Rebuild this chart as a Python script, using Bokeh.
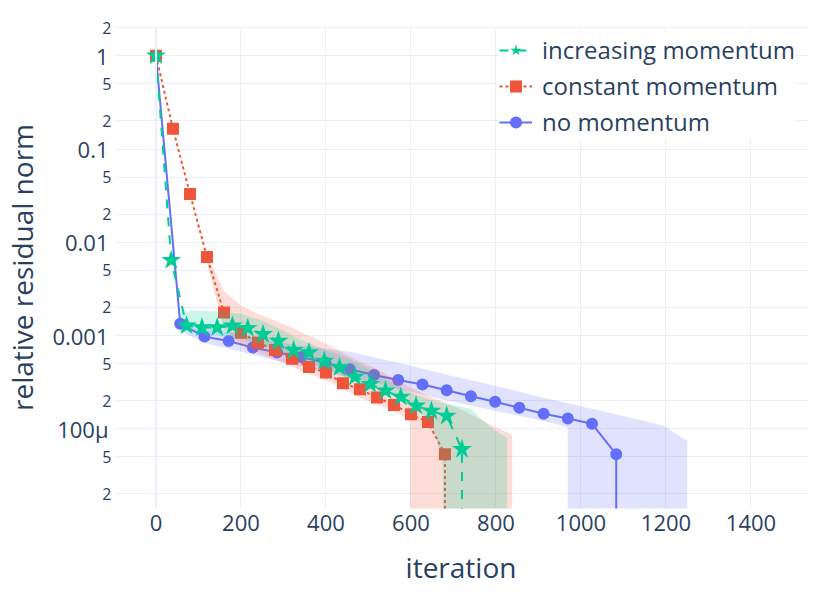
from bokeh.plotting import figure
from bokeh.models import Range1d, FixedTicker, LogAxis, Legend, LegendItem, Span
from bokeh.embed import file_html
from bokeh.resources import INLINE

FONT = "Open Sans"
TXT = "#2a3f5f"
GRID = "#EBF0F8"
C_INC = "#00cc96"
C_CON = "#EF553B"
C_NO = "#636efa"
FLOOR = 1e-9  # below the visible range: where a curve/band drops out

# ---- series (iteration, relative residual norm) ----
inc_x = [0, 36, 72, 108, 144, 180, 216, 252, 288, 324, 360, 396, 432, 468, 504,
         540, 576, 612, 648, 684, 720, 720]
inc_y = [1.0, 6.4e-3, 1.27e-3, 1.22e-3, 1.22e-3, 1.27e-3, 1.20e-3, 1.03e-3, 8.75e-4,
         6.95e-4, 6.56e-4, 5.34e-4, 4.53e-4, 3.60e-4, 3.0e-4, 2.55e-4, 2.19e-4,
         1.76e-4, 1.55e-4, 1.37e-4, 6.03e-5, FLOOR]

con_x = [0, 40, 80, 120, 160, 200, 240, 280, 320, 360, 400, 440, 480, 520, 560,
         600, 640, 680, 680]
con_y = [1.0, 0.165, 0.033, 6.97e-3, 1.76e-3, 1.07e-3, 8.39e-4, 7.0e-4, 5.65e-4,
         4.6e-4, 4.0e-4, 3.08e-4, 2.65e-4, 2.16e-4, 1.80e-4, 1.43e-4, 1.18e-4,
         5.32e-5, FLOOR]

no_x = [0, 57, 114, 171, 228, 285, 342, 399, 456, 513, 570, 627, 684, 741, 798,
        855, 912, 969, 1026, 1083, 1083]
no_y = [1.0, 1.34e-3, 9.73e-4, 8.75e-4, 7.42e-4, 6.56e-4, 5.89e-4, 5.1e-4, 4.35e-4,
        3.78e-4, 3.34e-4, 2.99e-4, 2.59e-4, 2.23e-4, 1.95e-4, 1.68e-4, 1.45e-4,
        1.29e-4, 1.13e-4, 5.32e-5, FLOOR]

# ---- spread bands (upper / lower envelopes) ----
no_up_x = [56, 114, 171, 228, 285, 342, 399, 456, 513, 570, 627, 684, 741, 798,
           855, 912, 969, 1026, 1083, 1140, 1195, 1250, 1250]
no_up_y = [1.59e-3, 1.24e-3, 1.09e-3, 9.7e-4, 8.57e-4, 7.76e-4, 7.21e-4, 6.7e-4,
           5.85e-4, 5.1e-4, 4.4e-4, 3.8e-4, 3.32e-4, 2.9e-4, 2.5e-4, 2.15e-4,
           1.88e-4, 1.64e-4, 1.42e-4, 1.24e-4, 1.08e-4, 7.4e-5, FLOOR]
no_lo_x = [56, 114, 171, 228, 285, 342, 399, 456, 513, 570, 627, 684, 741, 798,
           855, 912, 969, 969]
no_lo_y = [1.125e-3, 8.36e-4, 7.21e-4, 6.22e-4, 5.36e-4, 4.62e-4, 3.99e-4, 3.52e-4,
           3.11e-4, 2.69e-4, 2.33e-4, 2.01e-4, 1.78e-4, 1.56e-4, 1.38e-4, 1.22e-4,
           1.04e-4, FLOOR]

con_up_x = [120, 160, 200, 240, 280, 320, 360, 400, 440, 480, 520, 560, 600, 640,
            680, 720, 760, 800, 838, 838]
con_up_y = [7.16e-3, 3.02e-3, 2.09e-3, 1.71e-3, 1.44e-3, 1.21e-3, 9.94e-4, 8.16e-4,
            6.53e-4, 5.23e-4, 4.37e-4, 3.44e-4, 2.75e-4, 2.26e-4, 1.9e-4, 1.6e-4,
            1.28e-4, 1.03e-4, 8.62e-5, FLOOR]
con_lo_x = [120, 160, 200, 240, 280, 320, 360, 400, 440, 480, 520, 560, 598, 598]
con_lo_y = [6.03e-3, 1.18e-3, 7.96e-4, 6.53e-4, 5.49e-4, 4.62e-4, 3.89e-4, 3.32e-4,
            2.69e-4, 2.15e-4, 1.83e-4, 1.56e-4, 1.22e-4, FLOOR]

inc_up_x = [58, 100, 150, 200, 250, 300, 350, 400, 450, 500, 550, 600, 650, 700,
            740, 788, 826, 826]
inc_up_y = [1.80e-3, 1.84e-3, 1.80e-3, 1.71e-3, 1.44e-3, 1.125e-3, 8.57e-4, 7.03e-4,
            5.77e-4, 4.4e-4, 3.19e-4, 2.43e-4, 2.01e-4, 1.79e-4, 1.64e-4, 1.03e-4,
            8.0e-5, FLOOR]
inc_lo_x = [58, 100, 150, 200, 250, 300, 350, 400, 450, 500, 550, 600, 640, 655,
            675, 684]
inc_lo_y = [1.21e-3, 1.07e-3, 9.94e-4, 9.23e-4, 7.76e-4, 6.53e-4, 5.36e-4, 4.4e-4,
            3.52e-4, 2.9e-4, 2.37e-4, 1.81e-4, 1.28e-4, 9.5e-5, 4.0e-5, FLOOR]

# ---- axes ----
x_ticks = [0, 200, 400, 600, 800, 1000, 1200, 1400]
y_major_ticks = [1e-4, 1e-3, 1e-2, 0.1, 1.0]
y_major_labels = ["100μ", "0.001", "0.01", "0.1", "1"]
y_minor_ticks = [2e-5, 5e-5, 2e-4, 5e-4, 2e-3, 5e-3, 2e-2, 5e-2, 0.2, 0.5, 2.0]
y_minor_labels = ["2", "5", "2", "5", "2", "5", "2", "5", "2", "5", "2"]

X_START, X_END = -97.6, 1533
Y_START, Y_END = 1.396e-5, 2.06

p = figure(width=829, height=591, y_axis_type="log",
           x_range=Range1d(X_START, X_END), y_range=Range1d(Y_START, Y_END),
           output_backend="svg", toolbar_location=None,
           min_border_left=114, min_border_right=22,
           min_border_top=26, min_border_bottom=83)
p.outline_line_color = None
p.background_fill_color = "white"
p.border_fill_color = "white"

# grids
p.xgrid.ticker = FixedTicker(ticks=x_ticks)
p.ygrid.ticker = FixedTicker(ticks=sorted(y_major_ticks + y_minor_ticks))
for g in (p.xgrid, p.ygrid):
    g.grid_line_color = GRID
    g.grid_line_width = 1
p.add_layout(Span(location=0, dimension="height", line_color=GRID, line_width=2))

# x axis
xa = p.xaxis[0]
xa.ticker = FixedTicker(ticks=x_ticks)
xa.axis_label = "iteration"

# y axis (decade labels) -- outer
ya = p.yaxis[0]
ya.ticker = FixedTicker(ticks=y_major_ticks)
ya.major_label_overrides = {t: s for t, s in zip(y_major_ticks, y_major_labels)}
ya.axis_label = "relative residual norm"

# y axis (2, 5 labels, smaller) -- innermost, next to the frame
ym = LogAxis(ticker=FixedTicker(ticks=y_minor_ticks))
ym.major_label_overrides = {t: s for t, s in zip(y_minor_ticks, y_minor_labels)}
p.left.insert(0, ym)

for ax in (xa, ya, ym):
    ax.axis_line_color = None
    ax.major_tick_line_color = None
    ax.minor_tick_line_color = None
    ax.major_tick_out = 0
    ax.major_tick_in = 0
    ax.major_label_text_font = FONT
    ax.major_label_text_color = TXT
    ax.major_label_text_font_size = "22px"
    ax.axis_label_text_font = FONT
    ax.axis_label_text_color = TXT
    ax.axis_label_text_font_size = "28px"
    ax.axis_label_text_font_style = "normal"
ym.major_label_text_font_size = "16px"
ym.major_label_standoff = 3
xa.major_label_standoff = 6
xa.axis_label_standoff = 14
ya.major_label_standoff = -9
ya.axis_label_standoff = 8


def band(ux, uy, lx, ly, color):
    return p.patch(ux + lx[::-1], uy + ly[::-1], fill_color=color,
                   fill_alpha=0.2, line_color=None)


band(no_up_x, no_up_y, no_lo_x, no_lo_y, C_NO)
r_no_l = p.line(no_x, no_y, line_color=C_NO, line_width=2)
r_no_m = p.scatter(no_x, no_y, marker="circle", size=12, fill_color=C_NO,
                   line_color=None)

band(con_up_x, con_up_y, con_lo_x, con_lo_y, C_CON)
r_con_l = p.line(con_x, con_y, line_color=C_CON, line_width=2, line_dash="3 3")
r_con_m = p.scatter(con_x, con_y, marker="square", size=12, fill_color=C_CON,
                    line_color=None)

band(inc_up_x, inc_up_y, inc_lo_x, inc_lo_y, C_INC)
r_inc_l = p.line(inc_x, inc_y, line_color=C_INC, line_width=2, line_dash="9 9")
r_inc_m = p.scatter(inc_x, inc_y, marker="star", size=21, fill_color=C_INC,
                    line_color=None)

legend = Legend(items=[
    LegendItem(label="increasing momentum", renderers=[r_inc_l, r_inc_m]),
    LegendItem(label="constant momentum", renderers=[r_con_l, r_con_m]),
    LegendItem(label="no momentum", renderers=[r_no_l, r_no_m]),
])
legend.location = (385, 370)
legend.margin = 0
legend.padding = 8
legend.spacing = 3
legend.label_height = 30
legend.glyph_height = 30
legend.glyph_width = 33
legend.label_standoff = 10
legend.label_text_font = FONT
legend.label_text_color = TXT
legend.label_text_font_size = "24px"
legend.background_fill_color = "white"
legend.background_fill_alpha = 1.0
legend.border_line_color = None
p.add_layout(legend)

open("out.html", "w").write(file_html(p, INLINE))
